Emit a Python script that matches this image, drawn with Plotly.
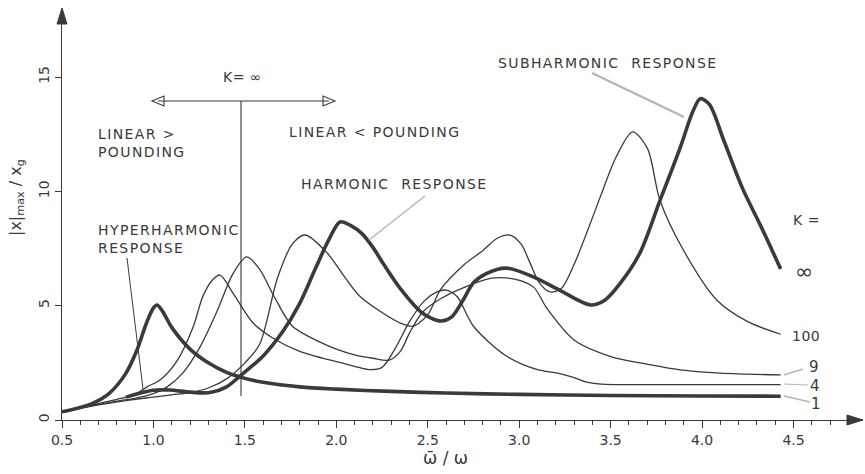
import plotly.graph_objects as go

# ---------------- data ----------------
x_k1 = [0.5, 0.6, 0.67, 0.76, 0.85, 0.91, 0.96, 1.0, 1.02, 1.05, 1.1, 1.2, 1.3, 1.4, 1.5, 1.6, 1.8, 2.0, 2.3, 2.6, 3.0, 3.5, 4.0, 4.43]
y_k1 = [0.36, 0.55, 0.74, 1.18, 2.05, 3.06, 4.2, 4.9, 5.03, 4.75, 4.05, 3.1, 2.5, 2.08, 1.82, 1.65, 1.45, 1.35, 1.25, 1.18, 1.12, 1.07, 1.05, 1.04]

x_k4 = [0.5, 0.6, 0.7, 0.8, 0.9, 0.965, 1.036, 1.13, 1.217, 1.27, 1.32, 1.364, 1.435, 1.545, 1.65, 1.8, 2.0, 2.1, 2.18, 2.25,
        2.32, 2.4, 2.48, 2.55, 2.6, 2.66, 2.75, 2.93, 3.1, 3.21, 3.3, 3.37, 3.45, 3.7, 4.0, 4.43]
y_k4 = [0.36, 0.53, 0.72, 0.9, 1.12, 1.45, 1.75, 2.6, 4.07, 5.4, 6.1, 6.34, 5.55, 4.24, 3.6, 3.0, 2.55, 2.35, 2.2, 2.3,
        3.1, 4.3, 5.2, 5.6, 5.68, 5.4, 4.1, 2.8, 2.2, 2.05, 1.85, 1.66, 1.57, 1.55, 1.55, 1.55]

x_k9 = [0.5, 0.6, 0.7, 0.8, 0.9, 1.0, 1.075, 1.16, 1.255, 1.35, 1.435, 1.51, 1.58, 1.66, 1.76, 1.9, 2.0, 2.1, 2.2, 2.29,
        2.35, 2.4, 2.47, 2.57, 2.7, 2.85, 2.98, 3.08, 3.15, 3.3, 3.51, 3.66, 3.88, 4.1, 4.43]
y_k9 = [0.36, 0.52, 0.68, 0.83, 0.95, 1.15, 1.45, 2.05, 3.2, 4.8, 6.4, 7.13, 6.6, 5.4, 4.1, 3.45, 3.1, 2.85, 2.7, 2.62,
        3.0, 3.8, 4.7, 5.3, 5.8, 6.2, 6.15, 5.8, 4.9, 3.5, 2.75, 2.5, 2.19, 2.05, 1.97]

x_k100 = [0.5, 0.7, 0.85, 1.0, 1.1, 1.2, 1.3, 1.4, 1.5, 1.58, 1.68, 1.76, 1.83, 1.95, 2.05, 2.13, 2.25, 2.35, 2.42, 2.5,
          2.57, 2.7, 2.8, 2.88, 2.95, 3.01, 3.06, 3.11, 3.17, 3.23, 3.3, 3.37, 3.45, 3.53, 3.62, 3.7, 3.77, 3.9, 4.08, 4.25, 4.43]
y_k100 = [0.36, 0.66, 0.85, 1.0, 1.1, 1.2, 1.4, 1.8, 2.5, 3.3, 6.25, 7.7, 8.09, 7.3, 6.2, 5.4, 4.7, 4.24, 4.1, 4.6,
          5.7, 6.8, 7.4, 7.95, 8.09, 7.7, 6.86, 6.0, 5.6, 5.75, 6.8, 8.2, 9.9, 11.5, 12.6, 11.9, 9.6, 7.4, 5.25, 4.3, 3.75]

x_kinf = [0.85, 0.95, 1.0, 1.09, 1.2, 1.31, 1.4, 1.47, 1.53, 1.6, 1.71, 1.8, 1.89, 1.96, 2.02, 2.08, 2.14, 2.2, 2.26, 2.35,
          2.47, 2.57, 2.63, 2.69, 2.75, 2.82, 2.93, 3.08, 3.22, 3.39, 3.47, 3.55, 3.66, 3.77, 3.88, 3.95, 3.99, 4.04, 4.12,
          4.22, 4.32, 4.43]
y_kinf = [1.0, 1.22, 1.3, 1.31, 1.22, 1.2, 1.45, 1.9, 2.3, 2.8, 3.9, 5.1, 6.7, 7.9, 8.66, 8.5, 8.15, 7.55, 6.8, 5.75,
          4.68, 4.33, 4.5, 5.2, 6.0, 6.4, 6.64, 6.25, 5.68, 5.03, 5.25, 5.95, 7.3, 9.6, 11.9, 13.5, 14.05, 13.8, 12.2,
          10.15, 8.5, 6.6]

x_ticks = [0.5, 1.0, 1.5, 2.0, 2.5, 3.0, 3.5, 4.0, 4.5]
y_ticks = [0, 5, 10, 15]
k_labels = ["∞", "100", "9", "4", "1"]

# ---------------- style ----------------
INK = "#3a3a3a"
LIGHT = "#b4b4b4"
FONT = "DejaVu Sans"

W, H = 865, 474
L, R, T, B = 62, 2, 10, 54
PW, PH = W - L - R, H - T - B


def pp(px, py):
    """pixel position -> paper coordinates"""
    return (px - L) / PW, (H - B - py) / PH


fig = go.Figure()

series = [
    (x_k100, y_k100, 1.3, "K=100"),
    (x_k9, y_k9, 1.3, "K=9"),
    (x_k4, y_k4, 1.3, "K=4"),
    (x_k1, y_k1, 3.6, "K=1"),
    (x_kinf, y_kinf, 3.6, "K=∞"),
]
for xs, ys, w, name in series:
    fig.add_trace(go.Scatter(x=xs, y=ys, mode="lines", name=name,
                             line=dict(color=INK, width=w, shape="spline", smoothing=0.85),
                             showlegend=False, hoverinfo="skip"))

shapes = []


def seg(p1, p2, color=INK, width=1.0):
    a = pp(*p1)
    b = pp(*p2)
    shapes.append(dict(type="line", xref="paper", yref="paper", x0=a[0], y0=a[1], x1=b[0], y1=b[1],
                       line=dict(color=color, width=width), layer="above"))


def tri(pts, fill=None, color=INK, width=1.0):
    ps = [pp(*p) for p in pts]
    path = "M " + " L ".join(f"{x:.5f},{y:.5f}" for x, y in ps) + " Z"
    shapes.append(dict(type="path", xref="paper", yref="paper", path=path,
                       fillcolor=fill if fill else "rgba(0,0,0,0)", line=dict(color=color, width=width)))


# axis arrowheads
tri([(863, 420), (847, 415), (847, 425)], fill=INK)
tri([(62, 8), (57, 24), (67, 24)], fill=INK)

# K = infinity marker: vertical line and double arrow
seg((241, 101), (241, 396), INK, 1.1)
seg((158, 101), (329, 101), INK, 1.1)
tri([(152, 101), (164, 96), (164, 106)], color=INK, width=1.1)
tri([(335, 101), (323, 96), (323, 106)], color=INK, width=1.1)

# leader lines
seg((425, 196), (369, 240), LIGHT, 1.4)
seg((592, 73), (684, 117), LIGHT, 2.2)
seg((127, 258), (143, 389), INK, 1.0)
seg((784, 375), (803, 369), LIGHT, 1.4)
seg((784, 384), (808, 385), LIGHT, 1.2)
seg((784, 396), (810, 402), LIGHT, 1.4)

annotations = []


def txt(text, px, py, size=14, xanchor="left", align="left", spacing=1.4, color=INK):
    x, y = pp(px, py)
    if spacing:
        text = "<br>".join(f"<span style='letter-spacing:{spacing}px'>{t}</span>" for t in text.split("<br>"))
    annotations.append(dict(text=text, x=x, y=y, xref="paper", yref="paper", xanchor=xanchor, yanchor="middle",
                            align=align, showarrow=False, font=dict(family=FONT, size=size, color=color)))


txt("K= ∞", 242, 77, size=14, xanchor="center", spacing=0.5)
txt("LINEAR ><br>POUNDING", 96, 143, size=14)
txt("LINEAR < POUNDING", 287, 132, size=14)
txt("HARMONIC  RESPONSE", 299, 184, size=14)
txt("SUBHARMONIC  RESPONSE", 496, 63, size=14)
txt("HYPERHARMONIC<br>RESPONSE", 96, 239, size=14)
txt("K =", 806, 220, size=14, xanchor="center", spacing=0.5)
k_pos = [(804, 271, 22), (806, 336, 14), (814, 367, 15), (815, 386, 15), (816, 404, 15)]
for lab, (px, py, sz) in zip(k_labels, k_pos):
    txt(lab, px, py, size=sz, xanchor="center", spacing=0.5)

# axis titles
ax_, ay_ = pp(17, 198)
annotations.append(dict(text="|x|<sub>max</sub> / x<sub>g</sub>", x=ax_, y=ay_, xref="paper", yref="paper",
                        textangle=-90, showarrow=False, xanchor="center", yanchor="middle",
                        font=dict(family=FONT, size=16, color=INK)))
bx, by = pp(445, 458)
annotations.append(dict(text="ω\u0304 / ω", x=bx, y=by, xref="paper", yref="paper", showarrow=False,
                        xanchor="center", yanchor="middle", font=dict(family=FONT, size=17, color=INK)))

fig.update_layout(
    width=W, height=H,
    margin=dict(l=L, r=R, t=T, b=B),
    paper_bgcolor="white", plot_bgcolor="white",
    shapes=shapes, annotations=annotations,
    font=dict(family=FONT, color=INK),
)
fig.update_xaxes(range=[0.5, 4.88], showgrid=False, zeroline=False, showline=True, linecolor=INK, linewidth=1.3,
                 tickvals=x_ticks, ticktext=[f"{v:.1f}" for v in x_ticks], ticks="outside", ticklen=7,
                 tickcolor=INK, tickwidth=1.2, tickfont=dict(family=FONT, size=14, color=INK),
                 minor=dict(dtick=0.1, tick0=0.5, ticks="outside", ticklen=4, tickcolor=INK, tickwidth=1, showgrid=False))
fig.update_yaxes(range=[0, 17.93], showgrid=False, zeroline=False, showline=True, linecolor=INK, linewidth=1.3,
                 tickvals=y_ticks, ticktext=[str(v) for v in y_ticks], ticks="outside", ticklen=6,
                 tickcolor=INK, tickwidth=1.2, tickangle=-90, tickfont=dict(family=FONT, size=14, color=INK))

fig.write_html("out.html")
